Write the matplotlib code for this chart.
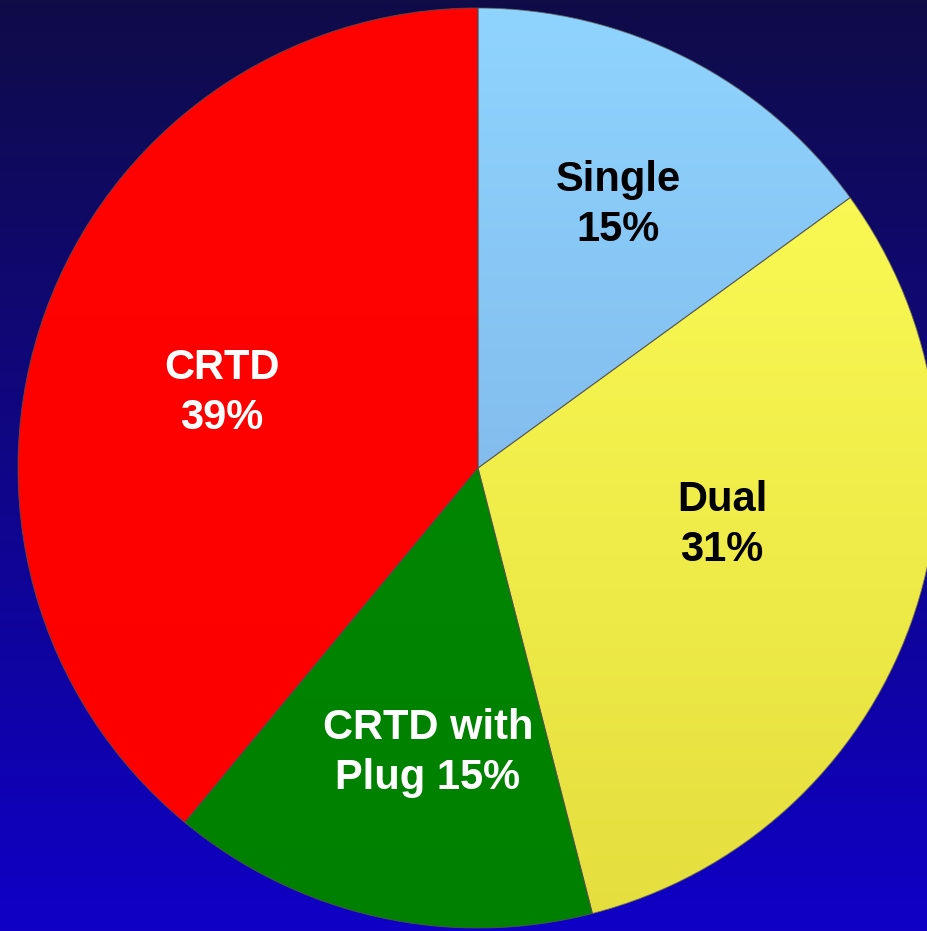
import numpy as np
import matplotlib
matplotlib.use("Agg")
import matplotlib.pyplot as plt
from matplotlib.colors import LinearSegmentedColormap
from matplotlib.patches import Wedge

labels = ["Single", "Dual", "CRTD with\nPlug", "CRTD"]
values = [15, 31, 15, 39]
colors = ["#8dcdfc", "#fdfc52", "#008a05", "#ff0000"]

W, H = 927, 931
fig = plt.figure(figsize=(W / 100, H / 100), dpi=100)
ax = fig.add_axes([0, 0, 1, 1])

# background gradient
bg = LinearSegmentedColormap.from_list("bg", ["#1000c6", "#0f0c48"])
grad = np.linspace(0, 1, 256).reshape(-1, 1)
ax.imshow(grad, cmap=bg, extent=[0, W, 0, H], origin="lower", aspect="auto", zorder=0)

cx, cy, R = 478, 463, 460
wedges, _ = ax.pie(values, colors=colors, startangle=90, counterclock=False,
                   center=(cx, cy), radius=R, frame=True,
                   wedgeprops=dict(edgecolor="none", linewidth=0))

# shading gradients on wedges
shade = {
    0: ["#77a6dc", "#8fd4ff"],
    1: ["#e4de3e", "#ffff58"],
    2: ["#008000", "#008c06"],
    3: ["#fc0000", "#ff0303"],
}
for i, w in enumerate(wedges):
    cm = LinearSegmentedColormap.from_list("s%d" % i, shade[i])
    im = ax.imshow(grad, cmap=cm, extent=[cx - R, cx + R, cy - R, cy + R],
                   origin="lower", aspect="auto", zorder=w.get_zorder() + 0.1)
    im.set_clip_path(w)
    outline = Wedge((cx, cy), R, w.theta1, w.theta2, fill=False,
                    edgecolor="#505050", linewidth=0.7, alpha=0.8, zorder=5)
    ax.add_patch(outline)

ax.set_xlim(0, W)
ax.set_ylim(0, H)
ax.set_aspect("auto")
ax.axis("off")

tp = dict(fontsize=30, fontweight="bold", family=["Liberation Sans", "DejaVu Sans"],
          ha="center", va="center", zorder=10, linespacing=1.3)
ax.text(618, H - 205, "Single\n15%", color="black", **tp)
ax.text(722, H - 525, "Dual\n31%", color="black", **tp)
ax.text(428, H - 753, "CRTD with\nPlug 15%", color="white", **tp)
ax.text(222, H - 393, "CRTD\n39%", color="white", **tp)

fig.savefig("out.png", dpi=100)
